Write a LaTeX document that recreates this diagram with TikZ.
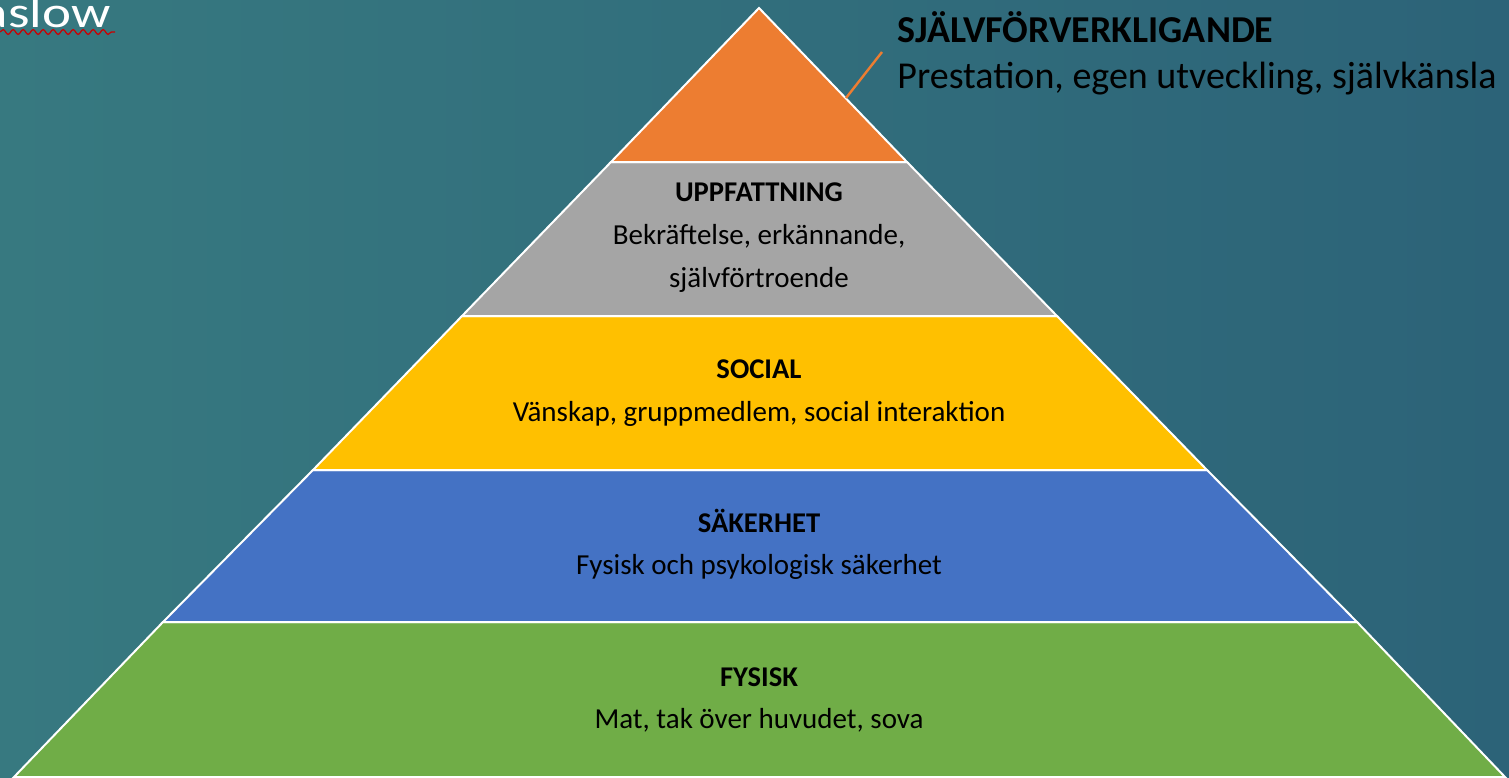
\documentclass[tikz,border=0pt]{standalone}
\usepackage{fontspec}
\setmainfont{Carlito}
\usetikzlibrary{decorations.pathmorphing}
\definecolor{bgleft}{RGB}{55,121,128}
\definecolor{bgright}{RGB}{44,99,120}
\definecolor{topband}{RGB}{237,125,49}
\definecolor{esteem}{RGB}{165,165,165}
\definecolor{social}{RGB}{255,192,0}
\definecolor{safety}{RGB}{68,114,196}
\definecolor{basic}{RGB}{112,173,71}
\tikzset{band/.style={draw=white, line width=1pt, line join=miter},
         head/.style={font=\fontsize{14.3}{17}\selectfont\bfseries, anchor=base},
         body/.style={font=\fontsize{14.5}{17}\selectfont, anchor=base}}

\begin{document}
\begin{tikzpicture}[x=0.5pt, y=-0.5pt]
  \useasboundingbox (0,0) rectangle (1509,777);
  \clip (0,0) rectangle (1509,777);
  \shade[left color=bgleft, right color=bgright] (0,0) rectangle (1509,777);
  % the five bands, apex at (759,8)
  \fill[basic,  band] (14,777) -- (163,622) -- (1357,622) -- (1505,777) -- cycle;
  \fill[safety, band] (163,622) -- (313,470) -- (1207,470) -- (1357,622) -- cycle;
  \fill[social, band] (313,470) -- (462,316) -- (1057,316) -- (1207,470) -- cycle;
  \fill[esteem, band] (462,316) -- (611,162) -- (907,162) -- (1057,316) -- cycle;
  \fill[topband,band] (611,162) -- (759,8) -- (907,162) -- cycle;
  % labels
  \node[head] (esteemhead) at (759,201) {UPPFATTNING};
  \node[body] (esteemtxt) at (759,244) {Bekräftelse, erkännande,};
  \node[body] (esteemtxt2) at (759,287) {självförtroende};
  \node[head] (socialhead) at (759,378) {SOCIAL};
  \node[body] (socialtxt) at (759,421) {Vänskap, gruppmedlem, social interaktion};
  \node[head] (safetyhead) at (759,532) {SÄKERHET};
  \node[body] (safetytxt) at (759,574) {Fysisk och psykologisk säkerhet};
  \node[head] (basichead) at (759,686) {FYSISK};
  \node[body] (basictxt) at (759,728) {Mat, tak över huvudet, sova};
  % top level, set beside the pyramid
  \node[head, anchor=base west, inner sep=0pt, font=\fontsize{19}{22}\selectfont\bfseries]
    (tophead) at (897,42) {SJÄLVFÖRVERKLIGANDE};
  \node[body, anchor=base west, inner sep=0pt, font=\fontsize{19}{22}\selectfont]
    (toptxt) at (897,88) {Prestation, egen utveckling, självkänsla};
  \coordinate (tip) at (846,98);
  \coordinate (callout) at (882,52);
  \draw[topband, line width=1.2pt] (tip) -- (callout);
  % title, cut at the left edge
  \node[anchor=base east, inner sep=0pt, white, xscale=1.25,
        font=\fontsize{22}{26}\selectfont] (title) at (111,27) {Maslow};
  \draw[red!80!black, line width=0.6pt, decorate,
        decoration={snake, segment length=5, amplitude=1.2}] (0,32) -- (115,32);
\end{tikzpicture}
\end{document}
